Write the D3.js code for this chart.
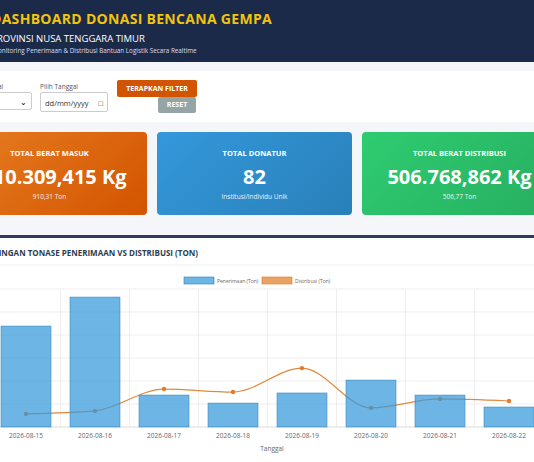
<!DOCTYPE html>
<html><head><meta charset="utf-8">
<script src="https://cdn.jsdelivr.net/npm/d3@7"></script>
<style>
body{margin:0;width:534px;height:462px;overflow:hidden;background:#f4f6f9;font-family:"Open Sans",sans-serif;position:relative}
.abs{position:absolute}
.hdr{left:0;top:0;width:534px;height:62px;background:#1c2a4a}
.card{top:132px;height:83px;width:195px;border-radius:4px;color:#fff;text-align:center}
.card .t{position:absolute;left:0;right:0;top:16px;font-size:7.5px;font-weight:700}
.card .v{position:absolute;left:0;right:0;top:31px;font-size:20px;font-weight:700;white-space:nowrap}
.card .s{position:absolute;left:0;right:0;top:60px;font-size:6.5px;opacity:.9}
.btn{font-size:7px;font-weight:700;color:#fff;text-align:center;border-radius:2px}
</style></head><body>
<div class="abs hdr"></div>
<div class="abs" style="left:-9px;top:9px;color:#f1c40f;font-weight:700;font-size:14px;letter-spacing:.3px">DASHBOARD DONASI BENCANA GEMPA</div>
<div class="abs" style="left:-3px;top:32px;color:#fff;font-size:9.5px">ROVINSI NUSA TENGGARA TIMUR</div>
<div class="abs" style="left:-2px;top:46px;color:#dde;font-size:6.3px">onitoring Penerimaan &amp; Distribusi Bantuan Logistik Secara Realtime</div>
<div class="abs" style="left:0;top:71px;width:534px;height:51px;background:#fff"></div>
<div class="abs" style="left:-2px;top:82px;font-size:6.5px;color:#555">al</div>
<div class="abs" style="left:-10px;top:92px;width:42px;height:18px;border:1px solid #ccc;border-radius:2px;background:#fff;font-size:8px;line-height:18px;text-align:right;padding-right:4px;box-sizing:border-box">&#8964;</div>
<div class="abs" style="left:40px;top:82px;font-size:6.5px;color:#555">Pilih Tanggal</div>
<div class="abs" style="left:40px;top:92px;width:68px;height:20px;border:1px solid #ccc;border-radius:2px;font-size:7.5px;line-height:20px;padding-left:4px;box-sizing:border-box;color:#333">dd/mm/yyyy <span style="margin-left:8px">&#9633;</span></div>
<div class="abs btn" style="left:117px;top:80px;width:80px;height:17px;line-height:17px;background:#d35400">TERAPKAN FILTER</div>
<div class="abs btn" style="left:158px;top:97px;width:38px;height:16px;line-height:16px;background:#95a5a6">RESET</div>

<div class="abs card" style="left:-48px;background:linear-gradient(135deg,#e67e22,#d35400)"><div class="t">TOTAL BERAT MASUK</div><div class="v" style="left:10px">910.309,415 Kg</div><div class="s">910,31 Ton</div></div>
<div class="abs card" style="left:157px;background:linear-gradient(135deg,#3498db,#2980b9)"><div class="t">TOTAL DONATUR</div><div class="v">82</div><div class="s">Institusi/Individu Unik</div></div>
<div class="abs card" style="left:362px;background:linear-gradient(135deg,#2ecc71,#27ae60)"><div class="t">TOTAL BERAT DISTRIBUSI</div><div class="v">506.768,862 Kg</div><div class="s">506,77 Ton</div></div>

<div class="abs" style="left:0;top:235px;width:534px;height:227px;background:#fff;border-top:3px solid #2c3e5c"></div>
<svg id="chart" class="abs" style="left:0;top:0" width="534" height="462"></svg>
<script>
const categories = ['2026-08-15','2026-08-16','2026-08-17','2026-08-18','2026-08-19','2026-08-20','2026-08-21','2026-08-22']
const penerimaan = [219.5, 282.5, 69.5, 52, 74, 102, 69.5, 43.5]
const distribusi = [28.5, 35, 82.5, 76, 128, 41.5, 61, 56.5]
const yTicks = [0, 50, 100, 150, 200, 250, 300]

const svg = d3.select('#chart')
svg.append('text').attr('x', 198).attr('y', 256).attr('text-anchor', 'end')
  .attr('font-size', 8).attr('font-weight', 700).attr('fill', '#2c3e50')
  .text('PERBANDINGAN TONASE PENERIMAAN VS DISTRIBUSI (TON)')
svg.append('line').attr('x1', 0).attr('x2', 534).attr('y1', 265).attr('y2', 265).attr('stroke', '#eee')

const x = d3.scaleBand().domain(categories).range([-8.5, 543.5]).paddingInner(0.275).paddingOuter(0.1375)
const xg = d3.scaleBand().domain(categories).range([-8.5, 543.5])
const y = d3.scaleLinear().domain([0, 300]).range([427, 289])

const g = svg.append('g')
g.selectAll('.hg').data(yTicks).join('line')
  .attr('x1', 0).attr('x2', 534).attr('y1', d => y(d)).attr('y2', d => y(d))
  .attr('stroke', d => d === 0 ? '#ccc' : '#e6e6e6').attr('stroke-width', 0.7)
g.selectAll('.vg').data(categories).join('line')
  .attr('x1', d => xg(d)).attr('x2', d => xg(d)).attr('y1', 289).attr('y2', 427)
  .attr('stroke', '#e6e6e6').attr('stroke-width', 0.7)

const cx = d => x(d) + x.bandwidth() / 2
const line = d3.line().x((d, i) => cx(categories[i])).y(d => y(d)).curve(d3.curveMonotoneX)
g.append('path').datum(distribusi).attr('d', line).attr('fill', 'none').attr('stroke', '#e08a3c').attr('stroke-width', 1.2)
g.selectAll('.pt').data(distribusi).join('circle')
  .attr('cx', (d, i) => cx(categories[i])).attr('cy', d => y(d)).attr('r', 2.2).attr('fill', '#e07b2a')

g.selectAll('.bar').data(penerimaan).join('rect')
  .attr('x', (d, i) => x(categories[i])).attr('width', x.bandwidth())
  .attr('y', d => y(d)).attr('height', d => y(0) - y(d))
  .attr('fill', 'rgba(52,152,219,0.72)').attr('stroke', 'rgba(41,128,185,0.8)').attr('stroke-width', 0.6)

const ax = d3.axisBottom(x).tickSize(0).tickPadding(6)
const axg = svg.append('g').attr('transform', 'translate(0,427)').call(ax)
axg.select('.domain').remove()
axg.selectAll('text').attr('font-size', 6.5).attr('fill', '#666').attr('font-family', 'Open Sans')
svg.append('text').attr('x', 272).attr('y', 451).attr('text-anchor', 'middle').attr('font-size', 6.5).attr('fill', '#666').text('Tanggal')

const legend = [{ label: 'Penerimaan (Ton)', fill: 'rgba(52,152,219,0.72)', stroke: '#2980b9', x: 184 },
  { label: 'Distribusi (Ton)', fill: 'rgba(230,140,60,0.8)', stroke: '#e07b2a', x: 262 }]
const lg = svg.selectAll('.lg').data(legend).join('g').attr('transform', d => `translate(${d.x},277)`)
lg.append('rect').attr('width', 30).attr('height', 7).attr('fill', d => d.fill).attr('stroke', d => d.stroke).attr('stroke-width', 0.6)
lg.append('text').attr('x', 33).attr('y', 6).attr('font-size', 5).attr('fill', '#666').text(d => d.label)
</script>
</body></html>
